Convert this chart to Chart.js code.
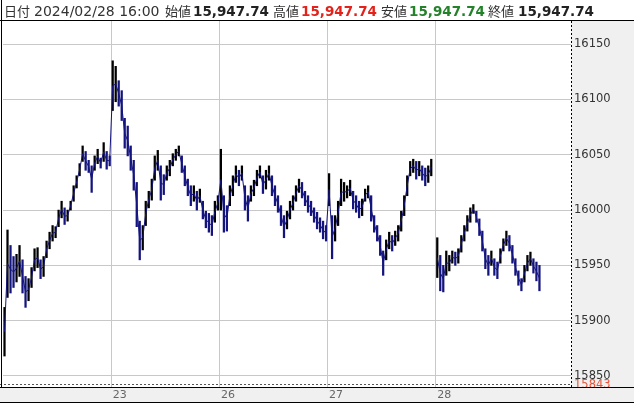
<!DOCTYPE html>
<html>
<head>
<meta charset="utf-8">
<script src="https://cdn.jsdelivr.net/npm/chart.js@4.4.1/dist/chart.umd.min.js"></script>
<style>
  html, body { margin: 0; padding: 0; background: #fff; }
  canvas { display: block; }
</style>
</head>
<body>
<canvas id="chart" width="634" height="403" style="width:634px;height:403px"></canvas>
<script>
// Trading days shown on the x axis
const days = ['22', '23', '26', '27', '28'];

// Low / high of each bar, one array per day
const lows22  = [15868,15921,15925,15930,15935,15940,15925,15912,15918,15930,15945,15948,15938,15940,15957,15965,15972,15975,15985,15993,15987,15990,16000,16008,16020,16031,16044,16036,16034,16016,16036,16042,16038,16044,16037,16040];
const highs22 = [15912,15982,15968,15958,15960,15968,15955,15940,15938,15948,15965,15966,15955,15958,15972,15980,15986,15985,16000,16008,16002,16000,16008,16022,16031,16042,16058,16053,16045,16040,16049,16055,16047,16061,16053,16049];

const lows23  = [16090,16098,16094,16081,16056,16049,16036,16018,15985,15955,15964,15986,16002,16009,16027,16036,16009,16014,16027,16031,16040,16045,16049,16034,16022,16013,16004,16008,16000,16007,15992,15984,15980,15977,15989,16000];
const highs23 = [16135,16130,16117,16108,16083,16076,16058,16045,16025,15990,15986,16008,16017,16028,16049,16054,16040,16032,16040,16045,16051,16055,16058,16049,16040,16028,16022,16022,16017,16019,16008,15999,15997,15995,16008,16013];

const lows26  = [16000,15980,15981,16004,16013,16025,16022,16027,16000,15990,16008,16013,16022,16029,16015,16019,16027,16013,16004,15998,15986,15975,15983,15992,16000,16008,16016,16011,16004,15998,15995,15989,15983,15980,15974,15972];
const highs26 = [16055,16013,16004,16022,16031,16040,16036,16040,16022,16013,16022,16027,16036,16040,16031,16036,16040,16031,16022,16013,16004,15995,15999,16008,16013,16022,16028,16025,16017,16013,16008,16002,15998,15993,15990,15986];

const lows27  = [16004,15956,15972,15986,16004,16008,16011,16013,16001,15998,15993,15995,16008,16011,15990,15980,15972,15959,15941,15955,15965,15963,15968,15972,15981,15995,16013,16031,16034,16028,16031,16027,16022,16025,16031,null];
const highs27 = [16033,15995,15995,16008,16028,16025,16022,16027,16017,16013,16008,16010,16019,16022,16013,15995,15986,15977,15963,15973,15980,15977,15981,15986,15999,16013,16031,16044,16046,16044,16044,16040,16038,16040,16046,null];

const lows28  = [15939,15927,15926,15941,15945,15952,15950,15952,15962,15972,15981,15989,15997,15989,15977,15963,15947,15941,15950,15941,15938,15952,15963,15968,15963,15952,15941,15932,15927,15935,15945,15950,15943,15936,15927];
const highs28 = [15975,15959,15950,15963,15959,15963,15962,15965,15977,15986,15995,16002,16005,15999,15992,15981,15965,15959,15963,15956,15953,15965,15974,15981,15977,15968,15956,15945,15938,15950,15959,15962,15956,15953,15950];

// Empty slots to the right of the last bar
const emptySlots = 10;

// Y axis ticks and the marked low
const yTicks = [15850, 15900, 15950, 16000, 16050, 16100, 16150];
const lowMark = 15843;

// Header
const headerDate = '2024/02/28 16:00';
const headerOpen = '15,947.74';
const headerHigh = '15,947.74';
const headerLow = '15,947.74';
const headerClose = '15,947.74';

// Build the category axis and bar data
const dayLows = [lows22, lows23, lows26, lows27, lows28];
const dayHighs = [highs22, highs23, highs26, highs27, highs28];
const labels = [];
const bars = [];
const dayStart = {};
days.forEach((d, di) => {
    dayStart[labels.length] = d;
    dayLows[di].forEach((lo, k) => {
        labels.push(d);
        const hi = dayHighs[di][k];
        bars.push(lo === null ? null : [lo, hi]);
    });
});
for (let i = 0; i < emptySlots; i++) {
    labels.push('');
    bars.push(null);
}

// thin trace through the middle of each bar, so the bars read as one line
const mids = bars.map(b => b ? (b[0] + b[1]) / 2 : null);

// Rising bars black, falling bars navy
const colors = bars.map((b, i) => {
    const prev = bars[i - 1];
    if (!b || !prev) return '#000';
    return mids[i] < mids[i - 1] ? '#14147e' : '#000000';
});

const frame = {
    id: 'frame',
    beforeDraw(chart) {
        const { ctx, chartArea: a, width, height } = chart;
        ctx.save();
        ctx.fillStyle = '#ffffff';
        ctx.fillRect(0, 0, width, height);
        ctx.fillStyle = '#f0f0f0';
        ctx.fillRect(a.right, a.top, width - a.right, a.bottom - a.top);
        ctx.fillRect(0, a.bottom, width, height - a.bottom);
        ctx.restore();
    },
    afterDraw(chart) {
        const { ctx, chartArea: a, width, height } = chart;
        const y = chart.scales.y;
        ctx.save();

        // dashed line at the marked low
        const ly = Math.round(y.getPixelForValue(lowMark)) + 0.5;
        ctx.strokeStyle = '#555';
        ctx.lineWidth = 1;
        ctx.setLineDash([2, 2]);
        ctx.beginPath();
        ctx.moveTo(0, ly);
        ctx.lineTo(a.right, ly);
        ctx.stroke();

        // dashed right border of the plot
        ctx.strokeStyle = '#000';
        ctx.beginPath();
        ctx.moveTo(Math.round(a.right) + 0.5, a.top);
        ctx.lineTo(Math.round(a.right) + 0.5, a.bottom);
        ctx.stroke();
        ctx.setLineDash([]);

        ctx.fillStyle = '#e5553b';
        ctx.font = '11.5px "DejaVu Sans"';
        ctx.textBaseline = 'middle';
        ctx.textAlign = 'left';
        ctx.fillText(String(lowMark), a.right + 3, ly + 1);

        // frame lines
        ctx.strokeStyle = '#000';
        ctx.beginPath();
        ctx.moveTo(1.5, 0);
        ctx.lineTo(1.5, a.bottom);
        ctx.moveTo(0, 20.5);
        ctx.lineTo(width, 20.5);
        ctx.moveTo(0, Math.round(a.bottom) + 0.5);
        ctx.lineTo(width, Math.round(a.bottom) + 0.5);
        ctx.moveTo(0, height - 0.5);
        ctx.lineTo(width, height - 0.5);
        ctx.stroke();

        // header text
        ctx.textBaseline = 'alphabetic';
        const jp = '13px "Noto Sans CJK JP"';
        const num = 'bold 13.5px "DejaVu Sans"';
        const parts = [
            ['日付', jp, '#333', 4],
            [headerDate, '14px "DejaVu Sans"', '#333', 34],
            ['始値', jp, '#333', 165],
            [headerOpen, num, '#222', 193],
            ['高値', jp, '#333', 273],
            [headerHigh, num, '#e3231b', 301],
            ['安値', jp, '#333', 381],
            [headerLow, num, '#23822a', 409],
            ['終値', jp, '#333', 488],
            [headerClose, num, '#222', 518]
        ];
        parts.forEach(([t, f, c, x]) => {
            ctx.font = f;
            ctx.fillStyle = c;
            ctx.fillText(t, x, 16);
        });
        ctx.restore();
    }
};

new Chart(document.getElementById('chart'), {
    type: 'bar',
    data: {
        labels: labels,
        datasets: [{
            type: 'line',
            data: mids,
            borderColor: '#14147e',
            borderWidth: 1,
            pointRadius: 0,
            tension: 0,
            spanGaps: false,
            order: 1
        }, {
            data: bars,
            backgroundColor: colors,
            borderWidth: 0,
            barThickness: 1.6,
            order: 2
        }]
    },
    options: {
        responsive: false,
        animation: false,
        devicePixelRatio: 1,
        layout: { padding: { top: 21, left: 3, right: 0, bottom: 0 } },
        plugins: {
            legend: { display: false },
            tooltip: { enabled: false }
        },
        scales: {
            x: {
                type: 'category',
                grid: {
                    offset: true,
                    drawTicks: false,
                    color: ctx => (dayStart[ctx.index] && ctx.index > 0) ? '#c8c8c8' : 'transparent'
                },
                border: { display: false },
                ticks: {
                    autoSkip: false,
                    maxRotation: 0,
                    align: 'start',
                    padding: 2,
                    color: '#666',
                    font: { family: 'DejaVu Sans', size: 11 },
                    callback: (v, i) => (dayStart[i] && i > 0) ? dayStart[i] : ''
                },
                afterFit: s => { s.height = 16; }
            },
            y: {
                position: 'right',
                min: 15840,
                max: 16171,
                grid: { color: '#c8c8c8', drawTicks: false },
                border: { display: false },
                afterBuildTicks: s => { s.ticks = yTicks.map(v => ({ value: v })); },
                ticks: {
                    padding: 3,
                    color: '#333',
                    font: { family: 'DejaVu Sans', size: 11.5 },
                    callback: v => String(v)
                },
                afterFit: s => { s.width = 63; }
            }
        }
    },
    plugins: [frame]
});
</script>
</body>
</html>
